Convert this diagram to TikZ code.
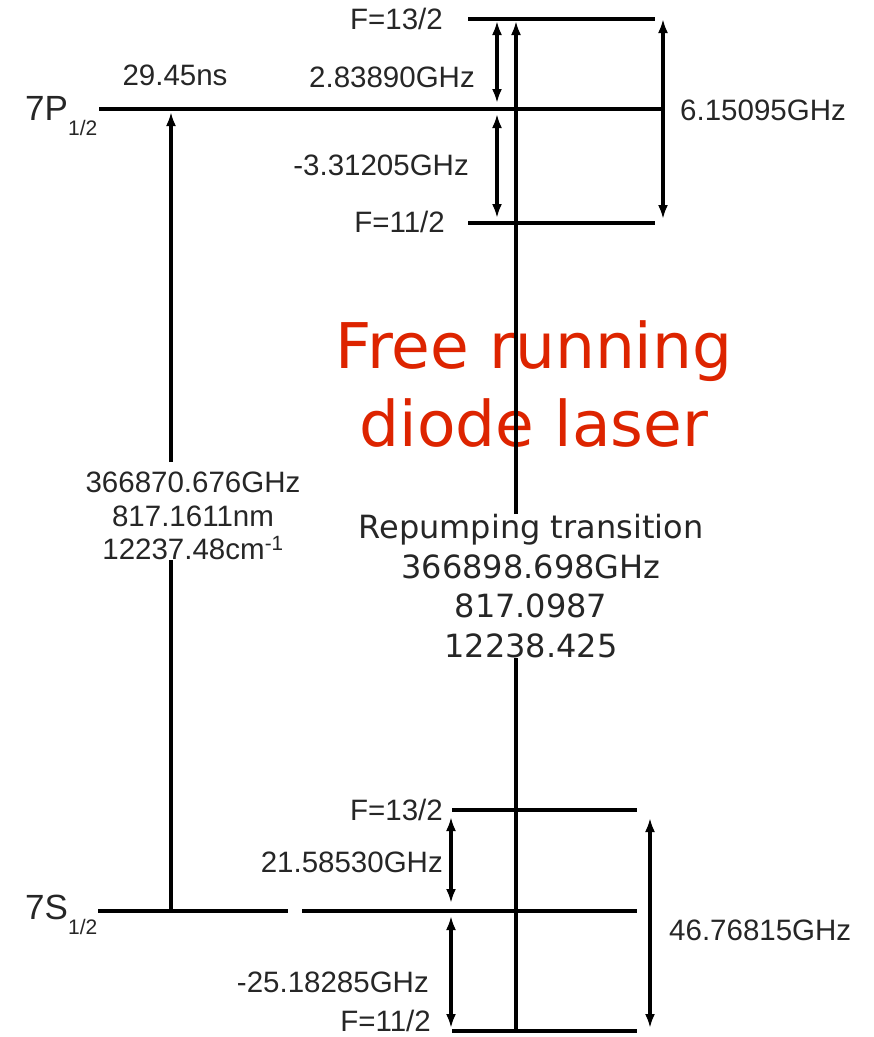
\documentclass[tikz,border=0pt]{standalone}
\usepackage{fontspec}
\setmainfont{Liberation Sans}
\newfontfamily\dejavu{DejaVu Sans}
\usetikzlibrary{arrows.meta, positioning}
\definecolor{laserred}{RGB}{221,36,0}

\begin{document}
\begin{tikzpicture}[x=1pt, y=-1pt,
  level/.style={line width=3.2pt},
  trans/.style={line width=3.2pt, -{Latex[length=14pt,width=10pt]}},
  split/.style={line width=3.2pt, {Latex[length=14pt,width=10pt]}-{Latex[length=14pt,width=10pt]}},
  lbl/.style={inner sep=0pt, text=black!85, font=\fontsize{29.5}{33.5}\selectfont},
  state/.style={inner sep=0pt, text=black!85, font=\fontsize{35}{40}\selectfont},
  sub/.style={inner sep=0pt, text=black!85, font=\fontsize{21}{24}\selectfont},
  rep/.style={inner sep=0pt, align=center, text=black!85, font=\dejavu\fontsize{32}{39.7}\selectfont},
  laser/.style={inner sep=0pt, align=center, text=laserred, font=\dejavu\fontsize{63}{78}\selectfont}]
  \useasboundingbox (0,0) rectangle (874,1037);

  % 7P levels
  \coordinate (P13l) at (468,19);  \coordinate (P13r) at (655,19);
  \coordinate (Pl)   at (99,109);  \coordinate (Pr)   at (663,109);
  \coordinate (P11l) at (468,223); \coordinate (P11r) at (655,223);
  \draw[level] (P13l) -- (P13r);
  \draw[level] (Pl) -- (Pr);
  \draw[level] (P11l) -- (P11r);

  % 7S levels
  \coordinate (S13l) at (452,810);  \coordinate (S13r) at (637,810);
  \coordinate (Sl)   at (98,911);   \coordinate (Sga)  at (288,911);
  \coordinate (Sgb)  at (302,911);  \coordinate (Sr)   at (637,911);
  \coordinate (S11l) at (452,1031); \coordinate (S11r) at (637,1031);
  \draw[level] (S13l) -- (S13r);
  \draw[level] (Sl) -- (Sga);
  \draw[level] (Sgb) -- (Sr);
  \draw[level] (S11l) -- (S11r);

  % level names
  \node[state, anchor=west] (nP) at (25,108) {7P};
  \node[sub, anchor=west] (nPs) at (68,128) {1/2};
  \node[state, anchor=west] (nS) at (25,907) {7S};
  \node[sub, anchor=west] (nSs) at (68,927) {1/2};
  \node[lbl] (life) at (175,75) {29.45ns};

  % hyperfine labels
  \node[lbl, anchor=east] (fP13) at (443,19) {F=13/2};
  \node[lbl, anchor=east] (fP11) at (445,222) {F=11/2};
  \node[lbl, anchor=east] (fS13) at (443,810) {F=13/2};
  \node[lbl, anchor=east] (fS11) at (431,1021) {F=11/2};
  \node[lbl, anchor=east] (dP1) at (475,77) {2.83890GHz};
  \node[lbl, anchor=east] (dP2) at (469,165) {-3.31205GHz};
  \node[lbl, anchor=west] (dP3) at (680,110) {6.15095GHz};
  \node[lbl, anchor=east] (dS1) at (443,862) {21.58530GHz};
  \node[lbl, anchor=east] (dS2) at (429,982) {-25.18285GHz};
  \node[lbl, anchor=west] (dS3) at (669,930) {46.76815GHz};

  % splitting arrows
  \coordinate (uA1) at (497,21);  \coordinate (uA2) at (497,103);
  \coordinate (uA3) at (497,114); \coordinate (uA4) at (497,218);
  \coordinate (uB1) at (663,19);  \coordinate (uB2) at (663,219);
  \coordinate (dA1) at (451,817); \coordinate (dA2) at (451,903);
  \coordinate (dA3) at (451,916); \coordinate (dA4) at (451,1028);
  \coordinate (dB1) at (650,818); \coordinate (dB2) at (650,1028);
  \draw[split] (uA1) -- (uA2);
  \draw[split] (uA3) -- (uA4);
  \draw[split] (uB1) -- (uB2);
  \draw[split] (dA1) -- (dA2);
  \draw[split] (dA3) -- (dA4);
  \draw[split] (dB1) -- (dB2);

  % cooling transition
  \node[lbl, align=center, anchor=north] (freq) at (193,472)
    {366870.676GHz\\817.1611nm\\12237.48cm\textsuperscript{-1}};
  \coordinate (Sv) at (171,911); \coordinate (Pv) at (171,112);
  \draw[level] (Sv) -- (Sv |- freq.south);
  \draw[trans, shorten <=10pt] (Sv |- freq.north) -- (Pv);

  % repumping transition
  \node[laser, anchor=north] (laser) at (534,320) {Free running\\diode laser};
  \node[rep, anchor=north] (repump) at (531,514)
    {Repumping transition\\366898.698GHz\\817.0987\\12238.425};
  \coordinate (Rv) at (516,1031); \coordinate (Rt) at (516,21);
  \draw[level] (Rv) -- (Rv |- repump.south);
  \draw[trans] (Rv |- repump.north) -- (Rt);
\end{tikzpicture}
\end{document}
